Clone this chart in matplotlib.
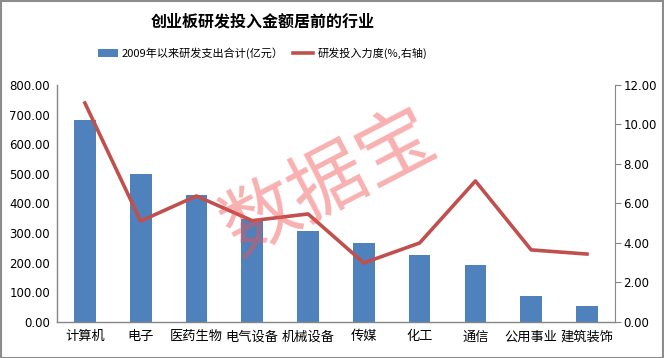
import matplotlib
matplotlib.use("Agg")
import matplotlib.pyplot as plt
import numpy as np
from matplotlib.patches import Rectangle

plt.rcParams['font.family'] = ['Noto Sans CJK SC', 'DejaVu Sans']

categories = ['计算机', '电子', '医药生物', '电气设备', '机械设备', '传媒', '化工', '通信', '公用事业', '建筑装饰']
spend = [682, 500, 429, 348, 307, 267, 226, 193, 88, 54]
intensity = [11.09, 5.11, 6.38, 5.13, 5.47, 2.99, 4.00, 7.14, 3.65, 3.44]
left_ticks = [0, 100, 200, 300, 400, 500, 600, 700, 800]
right_ticks = [0, 2, 4, 6, 8, 10, 12]

bar_color = '#4F81BD'
line_color = '#C0504D'

fig = plt.figure(figsize=(6.64, 3.58), dpi=100)
ax = fig.add_axes([0.0858, 0.1006, 0.926 - 0.0858, 0.7626 - 0.1006])
x = np.arange(len(categories))
bars = ax.bar(x, spend, width=0.39, color=bar_color, zorder=2, label='2009年以来研发支出合计(亿元）')
ax.set_xlim(-0.5, len(categories) - 0.5)
ax.set_ylim(0, 800)
ax.set_yticks(left_ticks)
ax.set_yticklabels([f'{v:.2f}' for v in left_ticks], fontsize=8.5, family='DejaVu Sans')
ax.set_xticks(x)
ax.set_xticklabels(categories, fontsize=9.5)
ax.tick_params(axis='x', length=0, pad=6)
ax.tick_params(axis='y', length=0, pad=5)
for s in ['top', 'right']:
    ax.spines[s].set_visible(False)
for s in ['left', 'bottom']:
    ax.spines[s].set_color('#868686')
    ax.spines[s].set_linewidth(1)

ax2 = ax.twinx()
ln, = ax2.plot(x, intensity, color=line_color, linewidth=2.6, zorder=3, label='研发投入力度(%,右轴)')
ax2.set_ylim(0, 12)
ax2.set_yticks(right_ticks)
ax2.set_yticklabels([f'{v:.2f}' for v in right_ticks], fontsize=8.5, family='DejaVu Sans')
ax2.tick_params(axis='y', length=4, color='#868686', pad=2)
for s in ['top', 'left', 'bottom']:
    ax2.spines[s].set_visible(False)
ax2.spines['right'].set_color('#868686')

fig.text(0.395, 0.939, '创业板研发投入金额居前的行业', ha='center', va='center',
         fontsize=11.5, fontweight='bold')
fig.legend(handles=[bars, ln], loc='center', bbox_to_anchor=(0.395, 0.852), ncol=2,
           frameon=False, fontsize=8, handlelength=1.8, handletextpad=0.4, columnspacing=0.8)

fig.text(0.497, 0.489, '数据宝', ha='center', va='center', fontsize=55, rotation=27.5,
         color='#F05050', alpha=0.45, zorder=10)

fig.patches.append(Rectangle((0.001, 0.001), 0.997, 0.997, transform=fig.transFigure,
                             fill=False, edgecolor='#8C8C8C', linewidth=1.5))

fig.savefig('out.png', dpi=100)
